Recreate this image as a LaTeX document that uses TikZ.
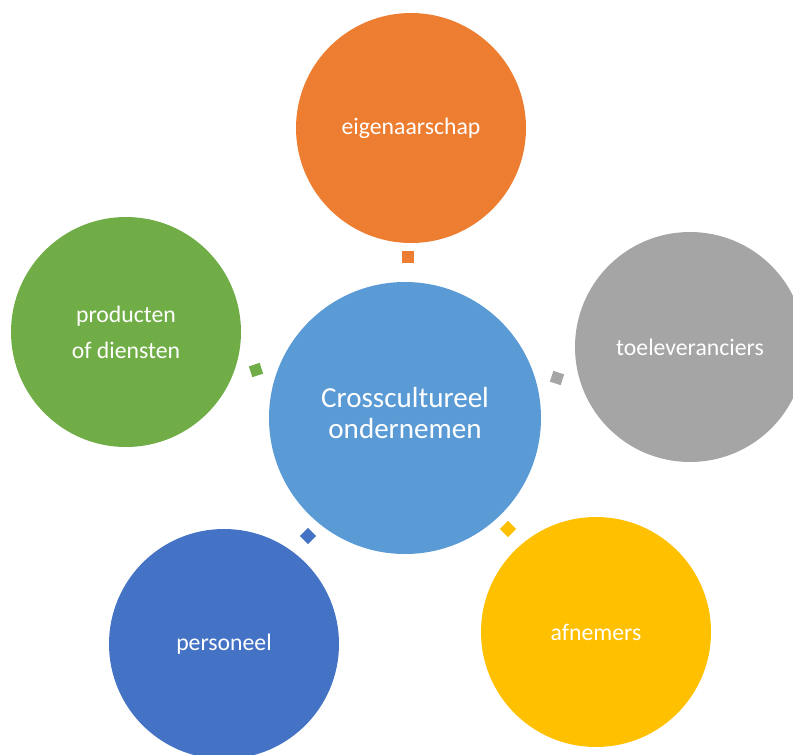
\documentclass[tikz,border=0pt]{standalone}
\usepackage{fontspec}
\setmainfont{Carlito}
\definecolor{corange}{RGB}{237,125,49}
\definecolor{cgray}{RGB}{165,165,165}
\definecolor{cgreen}{RGB}{112,173,71}
\definecolor{cblue}{RGB}{68,114,196}
\definecolor{cyellow}{RGB}{255,192,0}
\definecolor{clight}{RGB}{91,155,213}
\begin{document}
\begin{tikzpicture}[x=0.75pt,y=-0.75pt,
  outer/.style={circle,minimum size=230*0.75pt,inner sep=0pt,text=white,font=\fontsize{17.8}{27}\selectfont,align=center},
  inner/.style={circle,minimum size=272*0.75pt,inner sep=0pt},
  ctext/.style={inner sep=0pt,text=white,font=\fontsize{21.8}{23.5}\selectfont,align=center},
  conn/.style={minimum size=8.5pt,inner sep=0pt}]
\useasboundingbox (0,0) rectangle (793,754);
\clip (0,0) rectangle (793,754);
\node[inner,fill=clight] (c) at (405,418) {};
\node[ctext] (ct) at (405,413) {Crosscultureel\\ondernemen};
\node[outer,fill=corange] (own) at (411,128) {eigenaarschap};
\node[outer,fill=cgray] (sup) at (690,347) {toeleveranciers};
\node[outer,fill=cgreen] (prod) at (126,332) {producten\\of diensten};
\node[outer,fill=cblue] (pers) at (224,644) {personeel};
\node[outer,fill=cyellow] (cust) at (596,632) {afnemers};
\node[conn,fill=corange] (s1) at (408,257) {};
\node[conn,fill=cgray,rotate=-18] (s2) at (557,378) {};
\node[conn,fill=cgreen,rotate=18] (s3) at (256,370) {};
\node[conn,fill=cblue,rotate=45] (s4) at (308,536) {};
\node[conn,fill=cyellow,rotate=45] (s5) at (508,529) {};
\end{tikzpicture}
\end{document}
